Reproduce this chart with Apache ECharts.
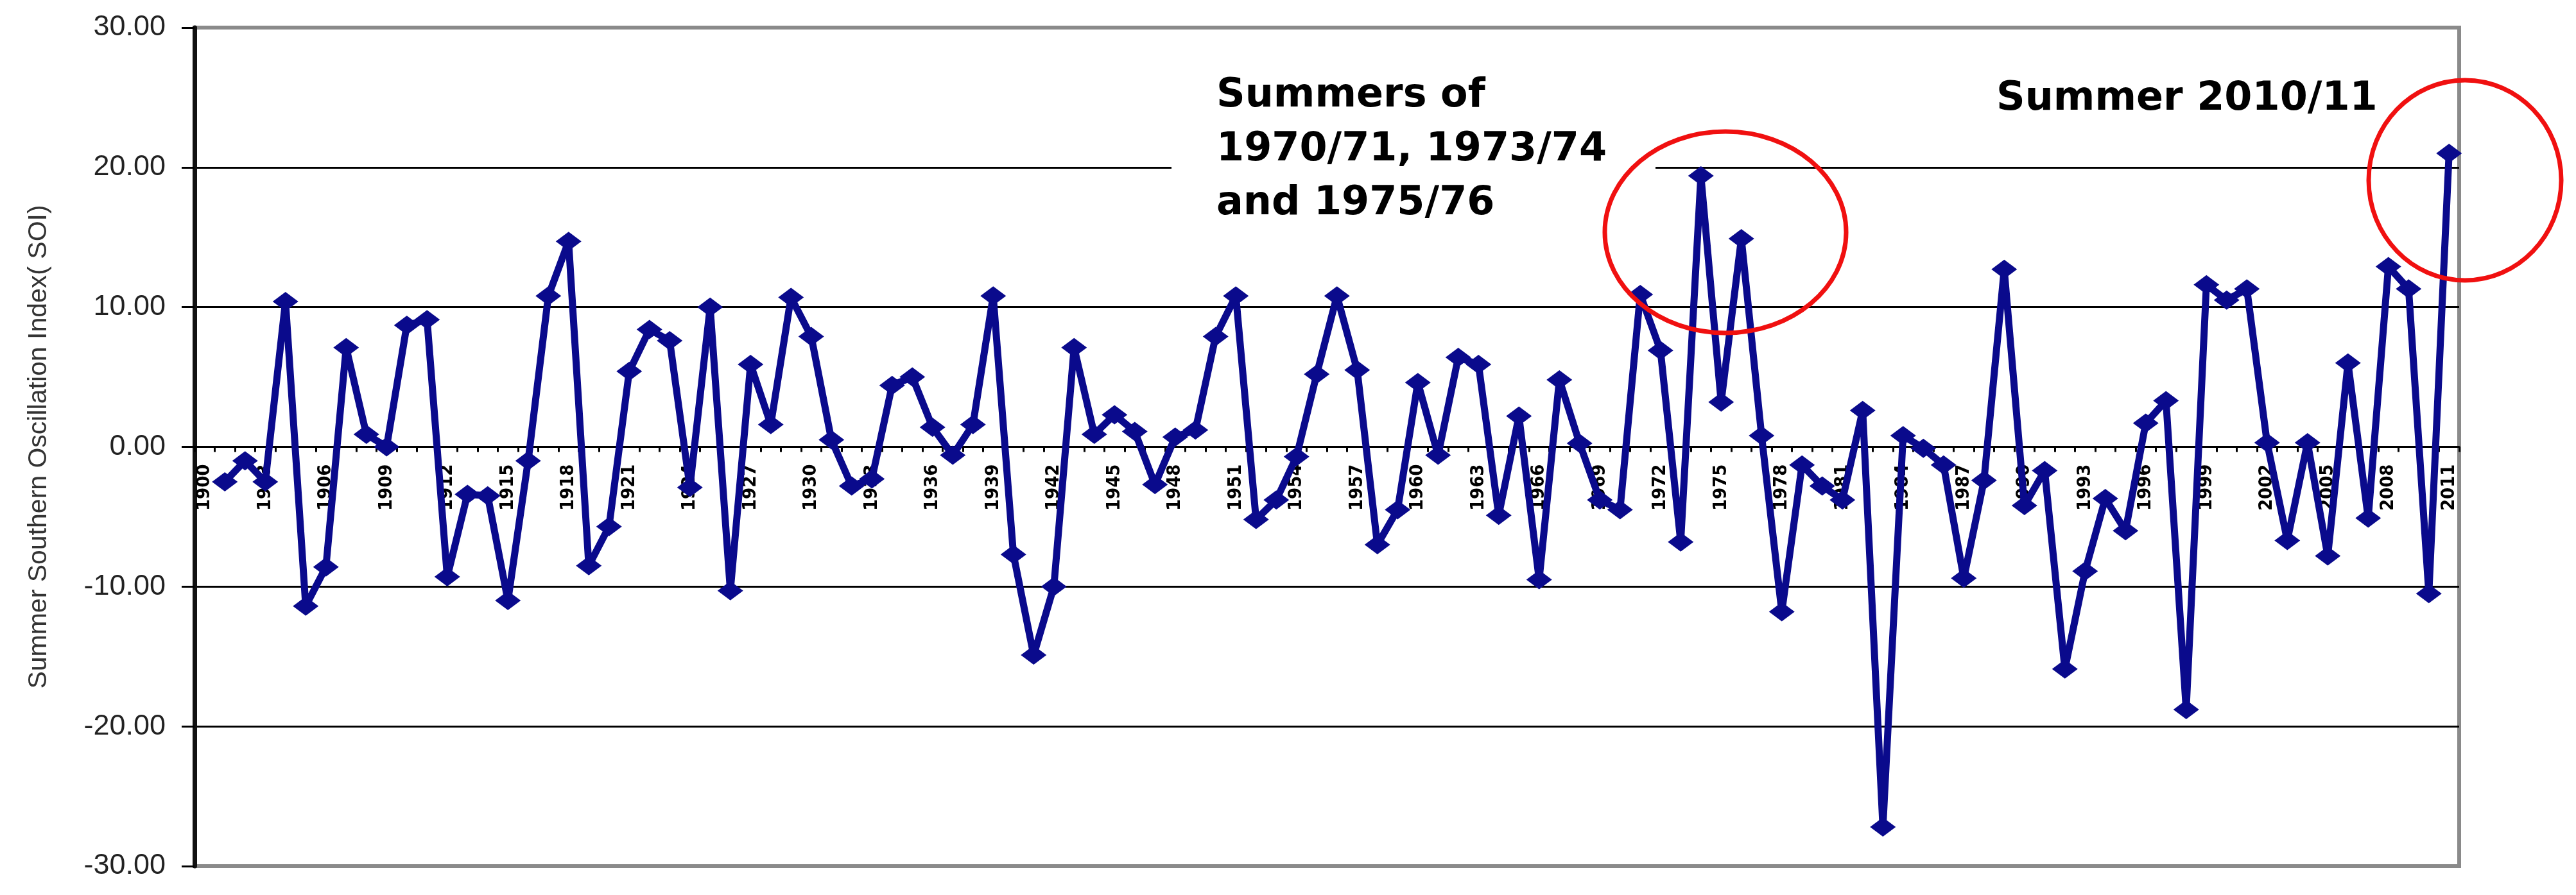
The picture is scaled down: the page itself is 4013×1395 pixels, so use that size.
<!DOCTYPE html>
<html><head><meta charset="utf-8">
<script src="https://cdn.jsdelivr.net/npm/echarts@6/dist/echarts.min.js"></script>
<style>html,body{margin:0;padding:0;background:#fff}#c{width:4013px;height:1395px}</style>
</head><body><div id="c"></div>
<script>
// Category labels on the x axis (one per summer, 1900..2011)
const years = [];
for (let y = 1900; y <= 2011; y++) years.push(String(y));
// The series starts one category in (1901) and runs to 2011
const dataYears = years.slice(1);
const soi = [
  -2.5, -1.0, -2.5, 10.4, -11.4, -8.6, 7.1, 0.9, 0.0, 8.7,          // 1901-1910
  9.1, -9.3, -3.4, -3.5, -11.0, -1.0, 10.8, 14.7, -8.5, -5.7,       // 1911-1920
  5.4, 8.4, 7.6, -2.9, 10.0, -10.3, 5.9, 1.6, 10.7, 7.9,            // 1921-1930
  0.5, -2.8, -2.3, 4.4, 5.0, 1.4, -0.6, 1.6, 10.8, -7.7,            // 1931-1940
  -14.9, -10.0, 7.1, 0.9, 2.3, 1.1, -2.7, 0.7, 1.2, 7.9,            // 1941-1950
  10.8, -5.2, -3.8, -0.7, 5.2, 10.8, 5.5, -7.0, -4.5, 4.6,          // 1951-1960
  -0.6, 6.4, 5.9, -4.9, 2.2, -9.5, 4.8, 0.25, -3.8, -4.5,           // 1961-1970
  10.9, 6.9, -6.8, 19.4, 3.2, 14.9, 0.8, -11.8, -1.3, -2.8,         // 1971-1980
  -3.8, 2.6, -27.2, 0.8, -0.1, -1.3, -9.4, -2.4, 12.7, -4.2,        // 1981-1990
  -1.7, -15.9, -8.9, -3.7, -6.0, 1.7, 3.3, -18.8, 11.6, 10.5,       // 1991-2000
  11.3, 0.3, -6.7, 0.3, -7.8, 6.0, -5.1, 12.9, 11.3, -10.5,         // 2001-2010
  21.0                                                              // 2011
];
const yMin = -30, yMax = 30, yStep = 10;
const yTitle = 'Summer Southern Oscillation Index( SOI)';
const note1 = ['Summers of', '1970/71, 1973/74', 'and 1975/76'];
const note2 = 'Summer 2010/11';

const chart = echarts.init(document.getElementById('c'), null, {renderer: 'canvas'});
const noteFont = {fontFamily: '"DejaVu Sans", Verdana, sans-serif', fontWeight: 'bold', fontSize: 62, fill: '#000'};

const gridTop = 43, gridBottom = 45, chartH = 1395;
const plotH = chartH - gridTop - gridBottom;
// place the category axis on the zero line of the value axis
const zeroOffset = -plotH * (0 - yMin) / (yMax - yMin);

chart.setOption({
  animation: false,
  backgroundColor: '#fff',
  grid: {left: 303, right: 182, top: gridTop, bottom: gridBottom, show: true, borderColor: '#8a8a8a', borderWidth: 6, backgroundColor: 'transparent'},
  xAxis: {
    type: 'category',
    data: years,
    boundaryGap: true,
    offset: zeroOffset,
    axisLine: {onZero: false, lineStyle: {color: '#000', width: 3}},
    axisTick: {show: true, interval: 0, length: 8, lineStyle: {color: '#000', width: 3}},
    axisLabel: {
      interval: 2, rotate: 90, margin: 27,
      fontFamily: '"Liberation Sans Narrow", "Arial Narrow", "DejaVu Sans Condensed", "Liberation Sans", sans-serif',
      fontSize: 29, fontWeight: 'bold', color: '#000'
    },
    splitLine: {show: false}
  },
  yAxis: {
    type: 'value', min: yMin, max: yMax, interval: yStep,
    name: yTitle, nameLocation: 'middle', nameGap: 222, nameRotate: 90,
    nameTextStyle: {fontFamily: '"Liberation Sans", Arial, sans-serif', fontSize: 41, color: '#333'},
    axisLine: {show: true, lineStyle: {color: '#111', width: 7}},
    axisTick: {show: true, length: 20, lineStyle: {color: '#000', width: 3}},
    axisLabel: {
      margin: 45, fontFamily: '"Liberation Sans", Arial, sans-serif', fontSize: 45, color: '#222',
      formatter: v => v.toFixed(2)
    },
    splitLine: {show: true, lineStyle: {color: ['#8a8a8a', '#000', '#000', '#000', '#000', '#000', '#8a8a8a'], width: 3}}
  },
  series: [{
    type: 'line',
    data: dataYears.map((y, i) => [y, soi[i]]),
    symbol: 'diamond',
    symbolSize: [40, 30],
    showAllSymbol: true,
    lineStyle: {color: '#0a0a8c', width: 11},
    itemStyle: {color: '#0a0a8c'},
    z: 3
  }],
  graphic: [
    {type: 'rect', z: 1, shape: {x: 1825, y: 98, width: 754, height: 272}, style: {fill: '#fff'}},
    {type: 'text', z: 5, style: Object.assign({text: note1[0], x: 1895, y: 150, verticalAlign: 'middle'}, noteFont)},
    {type: 'text', z: 5, style: Object.assign({text: note1[1], x: 1895, y: 234, verticalAlign: 'middle'}, noteFont)},
    {type: 'text', z: 5, style: Object.assign({text: note1[2], x: 1895, y: 318, verticalAlign: 'middle'}, noteFont)},
    {type: 'text', z: 5, style: Object.assign({text: note2, x: 3110, y: 155, verticalAlign: 'middle'}, noteFont)},
    {type: 'ellipse', z: 10, shape: {cx: 2688, cy: 362, rx: 188, ry: 157}, style: {fill: 'none', stroke: '#f01010', lineWidth: 7}},
    {type: 'ellipse', z: 10, shape: {cx: 3840, cy: 281, rx: 150, ry: 156}, style: {fill: 'none', stroke: '#f01010', lineWidth: 7}}
  ]
});
</script></body></html>
